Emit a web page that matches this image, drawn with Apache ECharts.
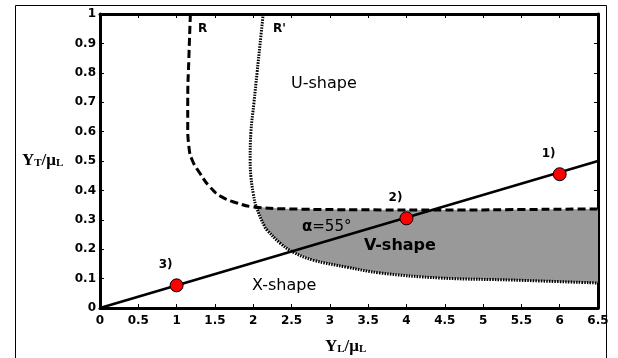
<!DOCTYPE html>
<html>
<head>
<meta charset="utf-8">
<script src="https://cdn.jsdelivr.net/npm/echarts@6/dist/echarts.min.js"></script>
<style>
  html, body { margin: 0; padding: 0; background: #fff; }
  #chart { width: 618px; height: 358px; }
</style>
</head>
<body>
<div id="chart"></div>
<script>
// x ticks / y ticks
const X_MIN = 0
const X_MAX = 6.5
const X_STEP = 0.5
const Y_MIN = 0
const Y_MAX = 1
const Y_STEP = 0.1

// boundary R (dashed)
const R_CURVE = [
  [1.18, 1.0], [1.16, 0.85], [1.145, 0.7], [1.145, 0.62], [1.16, 0.55],
  [1.2, 0.505], [1.3, 0.46], [1.44, 0.41], [1.59, 0.378], [1.79, 0.357],
  [2.0, 0.344], [2.48, 0.337], [3.5, 0.334], [4.5, 0.333], [5.5, 0.335],
  [6.5, 0.337]
]
// boundary R' (dotted)
const R2_CURVE = [
  [2.13, 1.0], [2.09, 0.9], [2.05, 0.8], [2.01, 0.7], [1.97, 0.6],
  [1.96, 0.5], [1.97, 0.446], [2.0, 0.39], [2.04, 0.344], [2.15, 0.276],
  [2.18, 0.265], [2.35, 0.221], [2.52, 0.19], [2.78, 0.163], [3.22, 0.139],
  [3.66, 0.119], [4.44, 0.102], [5.39, 0.095], [6.5, 0.085]
]
// alpha = 55 deg line
const ALPHA_LINE = [[0, 0], [6.5, 0.5]]
// cases 1) 2) 3)
const CASE_NAMES = ['1)', '2)', '3)']
const CASE_X = [6, 4, 1]
const CASE_Y = [0.455, 0.305, 0.077]

// V-shape region: R above, R' below
const upper = R_CURVE.filter(p => p[0] >= 2.0)
const lower = R2_CURVE.filter(p => p[1] <= 0.344).reverse()
const SHADE = upper.concat(lower)

const casePoints = CASE_X.map((x, i) => ({ value: [x, CASE_Y[i]], name: CASE_NAMES[i] }))

const tickFont = {
  color: '#000',
  fontFamily: 'DejaVu Sans',
  fontWeight: 'bold',
  fontSize: 12
}

function axisBase(extra) {
  return Object.assign({
    type: 'value',
    axisLine: { show: true, onZero: false, lineStyle: { color: '#000', width: 3 } },
    axisTick: { show: true, inside: true, length: 4, lineStyle: { color: '#000', width: 1 } },
    splitLine: { show: false }
  }, extra)
}

const option = {
  animation: false,
  backgroundColor: '#fff',
  grid: {
    left: 100,
    right: 20,
    top: 14,
    bottom: 50,
    containLabel: false,
    outerBoundsMode: 'none'
  },
  xAxis: [
    axisBase({
      position: 'bottom',
      min: X_MIN,
      max: X_MAX,
      interval: X_STEP,
      axisLabel: Object.assign({ margin: 7, showMinLabel: true, showMaxLabel: true }, tickFont)
    }),
    axisBase({
      position: 'top',
      min: X_MIN,
      max: X_MAX,
      interval: X_STEP,
      axisLabel: { show: false }
    })
  ],
  yAxis: [
    axisBase({
      position: 'left',
      min: Y_MIN,
      max: Y_MAX,
      interval: Y_STEP,
      axisLabel: Object.assign({ margin: 4, showMinLabel: true, showMaxLabel: true }, tickFont)
    }),
    axisBase({
      position: 'right',
      min: Y_MIN,
      max: Y_MAX,
      interval: Y_STEP,
      axisLabel: { show: false }
    })
  ],
  series: [
    {
      type: 'custom',
      name: 'V-shape',
      data: [0],
      silent: true,
      z: 1,
      renderItem(params, api) {
        const pts = SHADE.map(p => api.coord(p))
        return {
          type: 'polygon',
          shape: { points: pts, smooth: 0 },
          style: { fill: '#999999', stroke: null }
        }
      }
    },
    {
      type: 'line',
      name: 'R',
      data: R_CURVE,
      showSymbol: false,
      smooth: 0.5,
      z: 3,
      lineStyle: { color: '#000', width: 3, type: [8, 4] }
    },
    {
      type: 'line',
      name: "R'",
      data: R2_CURVE,
      showSymbol: false,
      smooth: 0.4,
      z: 3,
      lineStyle: { color: '#000', width: 3, type: [1.5, 1.2] }
    },
    {
      type: 'line',
      name: 'alpha',
      data: ALPHA_LINE,
      showSymbol: false,
      z: 4,
      lineStyle: { color: '#000', width: 2.5, type: 'solid' }
    },
    {
      type: 'scatter',
      name: 'cases',
      data: casePoints,
      symbol: 'circle',
      symbolSize: 13,
      z: 5,
      itemStyle: { color: '#ff0000', borderColor: '#000', borderWidth: 1, opacity: 1 },
      label: {
        show: true,
        position: 'top',
        offset: [-11, -2],
        formatter: p => p.name,
        color: '#000',
        fontFamily: 'DejaVu Sans',
        fontWeight: 'bold',
        fontSize: 12
      }
    }
  ],
  graphic: [
    {
      type: 'rect',
      shape: { x: 15.5, y: 5.5, width: 591, height: 400 },
      style: { fill: null, stroke: '#000', lineWidth: 1 },
      z: 0
    },
    {
      type: 'text', left: 198, top: 23, z: 10,
      style: { text: 'R', fill: '#000', font: 'bold 12px "DejaVu Sans"' }
    },
    {
      type: 'text', left: 273, top: 23, z: 10,
      style: { text: "R'", fill: '#000', font: 'bold 12px "DejaVu Sans"' }
    },
    {
      type: 'text', left: 291, top: 76, z: 10,
      style: { text: 'U-shape', fill: '#000', font: '16px "DejaVu Sans"' }
    },
    {
      type: 'text', left: 252, top: 278, z: 10,
      style: { text: 'X-shape', fill: '#000', font: '16px "DejaVu Sans"' }
    },
    {
      type: 'text', left: 364, top: 238, z: 10,
      style: { text: 'V-shape', fill: '#000', font: 'bold 16px "DejaVu Sans"' }
    },
    {
      type: 'text', left: 302, top: 220, z: 10,
      style: {
        text: '{a|α}{b|=55°}',
        rich: {
          a: { fontFamily: 'DejaVu Sans', fontWeight: 'bold', fontSize: 15, fill: '#000' },
          b: { fontFamily: 'DejaVu Sans', fontSize: 15, fill: '#000' }
        }
      }
    },
    {
      type: 'text', left: 22, top: 152, z: 10,
      style: {
        text: '{a|Y}{b|T}{a|/μ}{b|L}',
        rich: {
          a: { fontFamily: 'Liberation Serif', fontWeight: 'bold', fontSize: 17, fill: '#000', lineHeight: 18, verticalAlign: 'bottom' },
          b: { fontFamily: 'Liberation Serif', fontWeight: 'bold', fontSize: 11, fill: '#000', lineHeight: 8, verticalAlign: 'bottom' }
        }
      }
    },
    {
      type: 'text', left: 325, top: 338, z: 10,
      style: {
        text: '{a|Y}{b|L}{a|/μ}{b|L}',
        rich: {
          a: { fontFamily: 'Liberation Serif', fontWeight: 'bold', fontSize: 17, fill: '#000', lineHeight: 18, verticalAlign: 'bottom' },
          b: { fontFamily: 'Liberation Serif', fontWeight: 'bold', fontSize: 11, fill: '#000', lineHeight: 8, verticalAlign: 'bottom' }
        }
      }
    }
  ]
}

const chart = echarts.init(document.getElementById('chart'), null, { renderer: 'canvas' })
chart.setOption(option)
</script>
</body>
</html>
